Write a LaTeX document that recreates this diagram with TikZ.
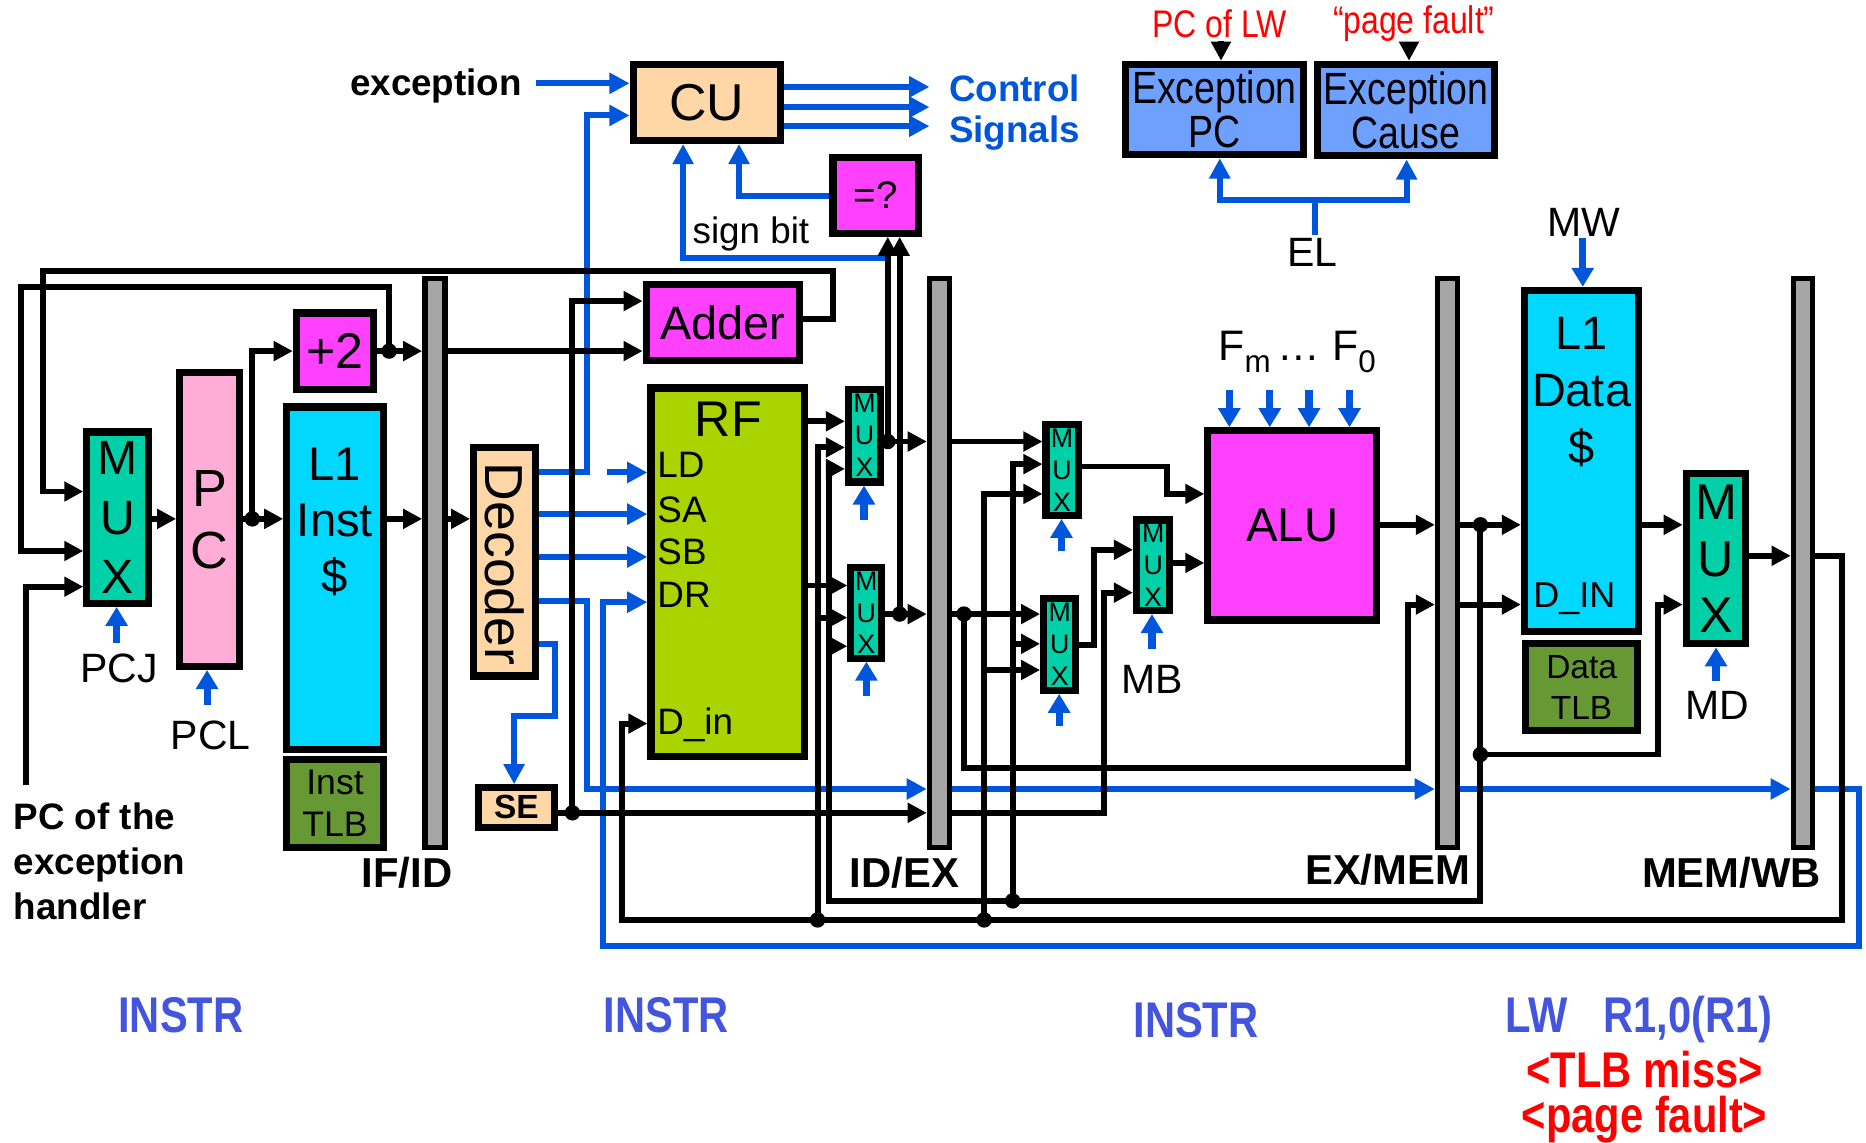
\documentclass[tikz,border=0pt]{standalone}
\usepackage{fontspec}
\setmainfont{Liberation Sans}
\newfontfamily\narrowfont[FakeStretch=0.83]{Liberation Sans}
\usetikzlibrary{arrows.meta}
\definecolor{cteal}{RGB}{0,208,168}
\definecolor{cpink}{RGB}{255,173,214}
\definecolor{ccyan}{RGB}{0,216,255}
\definecolor{cgreen}{RGB}{102,153,51}
\definecolor{cmag}{RGB}{255,64,255}
\definecolor{crf}{RGB}{170,212,0}
\definecolor{cpeach}{RGB}{255,214,165}
\definecolor{cblue}{RGB}{0,85,221}
\definecolor{cgray}{RGB}{166,166,166}
\definecolor{cexc}{RGB}{110,160,255}
\definecolor{cinstr}{RGB}{68,85,221}
\definecolor{cred}{RGB}{255,0,0}
\newcommand\setfs[2]{\fontsize{#1}{#2}\selectfont}
\newcommand\mkbox[7]{\node[#6, minimum width={(#4-#2)*0.1mm}, minimum height={(#5-#3)*0.1mm}] (#1) at ({(#2+#4)/2},{(#3+#5)/2}) {#7};}
\tikzset{
  wr/.style={line width=0.5mm, black},
  wra/.style={wr, -{Triangle[length=1.6mm,width=1.6mm]}},
  bwr/.style={line width=0.5mm, cblue},
  bwra/.style={bwr, -{Triangle[length=1.7mm,width=1.7mm]}},
  ctl/.style={line width=0.6mm, cblue, -{Triangle[length=1.6mm,width=1.8mm]}},
  blk/.style={draw=black, line width=0.6mm, inner sep=0pt},
  reg/.style={draw=black, line width=0.45mm, fill=cgray, inner sep=0pt},
  jdot/.style={circle, fill=black, inner sep=0pt, minimum size=1.3mm},
  lbl/.style={inner sep=0.5pt},
  smux/.style={blk, fill=cteal, align=center, font=\setfs{6.4}{7.6}},
}
\begin{document}
\begin{tikzpicture}[x=0.1mm,y=-0.1mm]
\useasboundingbox (0,0) rectangle (1568,960);

% ---------------- boxes ----------------
\mkbox{cu}{532}{54}{656}{118}{blk,fill=cpeach,font=\setfs{12.4}{14}}{CU}
\mkbox{eq}{700}{132}{772}{196}{blk,fill=cmag,font=\setfs{9.2}{11}}{=?}
\mkbox{muxpc}{73}{363}{125}{507}{blk,fill=cteal,align=center,font=\setfs{11.5}{14.2}}{M\\U\\X}
\mkbox{pc}{151}{313}{201}{560}{blk,fill=cpink,align=center,font=\setfs{12.5}{14.8}}{P\\C}
\mkbox{plustwo}{249}{263}{314}{327}{blk,fill=cmag,font=\setfs{12}{14}}{+2}
\mkbox{linst}{241}{342}{322}{630}{blk,fill=ccyan}{}
\mkbox{itlb}{241}{638}{322}{712}{blk,fill=cgreen,align=center,font=\setfs{8.5}{10}}{Inst\\TLB}
\mkbox{ifid}{357}{234}{374}{712}{reg}{}
\mkbox{dec}{398}{376}{450}{568}{blk,fill=cpeach}{}
\mkbox{se}{402}{662}{466}{695}{blk,fill=cpeach,font=\bfseries\setfs{8}{9}}{SE}
\mkbox{adder}{543}{239}{672}{303}{blk,fill=cmag,font=\setfs{11.2}{13}}{Adder}
\mkbox{rf}{547}{326}{676}{636}{blk,fill=crf}{}
\mkbox{muxa}{713}{327}{740}{405}{smux}{M\\U\\X}
\mkbox{muxb}{715}{477}{741}{553}{smux}{M\\U\\X}
\mkbox{idex}{781}{234}{798}{712}{reg}{}
\mkbox{muxc}{879}{357}{906}{433}{smux}{M\\U\\X}
\mkbox{muxd}{877}{503}{904}{580}{smux}{M\\U\\X}
\mkbox{muxe}{955}{437}{983}{513}{smux}{M\\U\\X}
\mkbox{alu}{1015}{362}{1157}{521}{blk,fill=cmag,font=\setfs{11.3}{13}}{ALU}
\mkbox{exmem}{1208}{234}{1225}{712}{reg}{}
\mkbox{ldata}{1281}{244}{1377}{531}{blk,fill=ccyan}{}
\mkbox{dtlb}{1282}{541}{1376}{614}{blk,fill=cgreen,align=center,font=\setfs{8}{9.7}}{Data\\TLB}
\mkbox{muxmem}{1417}{398}{1467}{541}{blk,fill=cteal,align=center,font=\setfs{12}{13.4}}{M\\U\\X}
\mkbox{memwb}{1507}{234}{1523}{712}{reg}{}
\mkbox{epc}{946}{54}{1095}{130}{blk,fill=cexc,align=center,font=\narrowfont\setfs{10.8}{10.5}}{Exception\\PC}
\mkbox{ecause}{1107}{54}{1256}{131}{blk,fill=cexc,align=center,font=\narrowfont\setfs{10.8}{10.5}}{Exception\\Cause}

% ---------------- texts ----------------
\node[lbl,rotate=-90,font=\setfs{12.8}{14}] (dectxt) at (424,474) {Decoder};
\node[lbl,anchor=north,align=center,font=\setfs{11.3}{13.4}] (linsttxt) at (281.5,374) {L1\\Inst\\\$};
\node[lbl,anchor=north,align=center,font=\setfs{11.2}{13.7}] (ldtxt) at (1329,264) {L1\\Data\\\$};
\node[lbl,anchor=west,font=\setfs{8.6}{10}] (dinup) at (1286,503) {D\_IN};
\node[lbl,font=\setfs{12}{14}] (rftxt) at (612,352) {RF};
\node[lbl,anchor=west,font=\setfs{8.8}{10}] (ldl) at (550,391) {LD};
\node[lbl,anchor=west,font=\setfs{8.8}{10}] (sal) at (550,428) {SA};
\node[lbl,anchor=west,font=\setfs{8.8}{10}] (sbl) at (550,464) {SB};
\node[lbl,anchor=west,font=\setfs{8.8}{10}] (drl) at (550,500) {DR};
\node[lbl,anchor=west,font=\setfs{8.8}{10}] (dinl) at (550,609) {D\_in};

\node[lbl,anchor=east,font=\bfseries\setfs{8.8}{10}] (exctxt) at (441,72) {exception};
\node[lbl,anchor=west,font=\bfseries\setfs{8.8}{10},text=cblue] (ctl1) at (795,74) {Control};
\node[lbl,anchor=west,font=\bfseries\setfs{8.8}{10},text=cblue] (ctl2) at (795,112) {Signals};
\node[lbl,font=\setfs{8.8}{10}] (signtxt) at (631,197) {sign bit};
\node[lbl,font=\setfs{9.8}{11}] (pcjtxt) at (100,562) {PCJ};
\node[lbl,font=\setfs{9.8}{11}] (pcltxt) at (177,618) {PCL};
\node[lbl,anchor=north west,align=left,font=\bfseries\setfs{8.8}{10.8}] (exhtxt) at (9,672) {PC of the\\exception\\handler};
\node[lbl,font=\bfseries\setfs{10}{12}] (ifidtxt) at (342,733) {IF/ID};
\node[lbl,font=\bfseries\setfs{10}{12}] (idextxt) at (760,733) {ID/EX};
\node[lbl,font=\bfseries\setfs{10}{12}] (exmemtxt) at (1166,731) {EX/MEM};
\node[lbl,font=\bfseries\setfs{10}{12}] (memwbtxt) at (1455,733) {MEM/WB};
\node[lbl,font=\setfs{9.8}{11}] (mbtxt) at (968,571) {MB};
\node[lbl,font=\setfs{9.8}{11}] (mdtxt) at (1443,593) {MD};
\node[lbl,font=\setfs{9.8}{11}] (mwtxt) at (1331,187) {MW};
\node[lbl,font=\setfs{9.8}{11}] (eltxt) at (1103,212) {EL};
\node[lbl,font=\setfs{10.2}{12}] (ftxt) at (1090,296) {F\raisebox{-0.55ex}{\setfs{7.5}{8}m}\,\ldots\ F\raisebox{-0.55ex}{\setfs{7.5}{8}0}};
\node[lbl,font=\narrowfont\setfs{9.2}{10},text=cred] (pclw) at (1025,20) {PC of LW};
\node[lbl,font=\narrowfont\setfs{9.2}{10},text=cred] (pgft) at (1188,20) {“page fault”};

\node[lbl,font=\narrowfont\bfseries\setfs{12}{12},text=cinstr] (ins1) at (152,853) {INSTR};
\node[lbl,font=\narrowfont\bfseries\setfs{12}{12},text=cinstr] (ins2) at (560,853) {INSTR};
\node[lbl,font=\narrowfont\bfseries\setfs{12}{12},text=cinstr] (ins3) at (1005,857) {INSTR};
\node[lbl,font=\narrowfont\bfseries\setfs{12}{12},text=cinstr] (lwtxt) at (1377,857) {LW\hspace{3mm}R1,0(R1)};
\node[lbl,font=\narrowfont\bfseries\setfs{12}{12},text=cred] (tlbm) at (1382,899) {<TLB miss>};
\node[lbl,font=\narrowfont\bfseries\setfs{12}{12},text=cred] (pgfl) at (1382,941) {<page fault>};

% ---------------- junctions & free ends ----------------
\node[jdot] (j1) at (212,436) {};
\node[jdot] (j2) at (327,295) {};
\node[jdot] (j3) at (481,683) {};
\node[jdot] (j4) at (746,371) {};
\node[jdot] (j5) at (756,516) {};
\node[jdot] (j6) at (810,516) {};
\node[jdot] (j7) at (1244,441) {};
\node[jdot] (j8) at (1244,634) {};
\node[jdot] (j9) at (851,757) {};
\node[jdot] (j10) at (687,773) {};
\node[jdot] (j11) at (827,773) {};
\coordinate (exhsrc) at (22,660);
\coordinate (ldsrc) at (510,397);
\coordinate (excsrc) at (450,70);
\coordinate (cs1) at (781,73);
\coordinate (cs2) at (781,90);
\coordinate (cs3) at (781,106);
\coordinate (signsrc) at (746,217);
\coordinate (b687) at (687,519);
\coordinate (b697) at (697,543);
\coordinate (b851) at (851,541);
\coordinate (b827) at (827,563);

% ---------------- blue wires ----------------
\draw[bwra] (excsrc) -- (cu.west |- excsrc);
\draw[bwra] (dec.east |- 0,397) -- (493,397) -- (493,97) -- (cu.west |- 0,97);
\draw[bwra] (cu.east |- cs1) -- (cs1);
\draw[bwra] (cu.east |- cs2) -- (cs2);
\draw[bwra] (cu.east |- cs3) -- (cs3);
\draw[bwra] (dec.east |- 0,432) -- (rf.west |- 0,432);
\draw[bwra] (dec.east |- 0,468) -- (rf.west |- 0,468);
\draw[bwra] (dec.east |- 0,505) -- (493,505) -- (493,663) -- (idex.west |- 0,663);
\draw[bwra] (dec.east |- 0,541) -- (466,541) -- (466,602) -- (432,602) -- (se.north -| 432,0);
\draw[bwra] (ldsrc) -- (rf.west |- ldsrc);
\draw[bwra] (idex.east |- 0,663) -- (exmem.west |- 0,663);
\draw[bwra] (exmem.east |- 0,663) -- (memwb.west |- 0,663);
\draw[bwra] (memwb.east |- 0,663) -- (1562,663) -- (1562,795) -- (507,795) -- (507,506) -- (rf.west |- 0,506);
\draw[bwra] (signsrc) -- (574,217) -- (cu.south -| 574,0);
\draw[bwra] (eq.west |- 0,165) -- (621,165) -- (cu.south -| 621,0);

% ---------------- black wires: IF ----------------
\draw[wra] (muxpc.east |- 0,436) -- (pc.west |- 0,436);
\draw[wra] (pc.east |- 0,436) -- (linst.west |- 0,436);
\draw[wra] (j1.center) |- (plustwo.west |- 0,295);
\draw[wra] (plustwo.east |- 0,295) -- (ifid.west |- 0,295);
\draw[wra] (j2.center) -- (327,241) -- (18,241) -- (18,463) -- (muxpc.west |- 0,463);
\draw[wra] (adder.east |- 0,268) -- (700,268) -- (700,228) -- (36,228) -- (36,413) -- (muxpc.west |- 0,413);
\draw[wra] (exhsrc) -- (22,493) -- (muxpc.west |- 0,493);
\draw[wra] (linst.east |- 0,436) -- (ifid.west |- 0,436);

% ---------------- ID ----------------
\draw[wra] (ifid.east |- 0,436) -- (dec.west |- 0,436);
\draw[wra] (ifid.east |- 0,295) -- (adder.west |- 0,295);
\draw[wra] (se.east |- 0,683) -- (idex.west |- 0,683);
\draw[wra] (j3.center) -- (481,253) -- (adder.west |- 0,253);
\draw[wra] (rf.east |- 0,354) -- (muxa.west |- 0,354);
\draw[wra] (rf.east |- 0,492) -- (muxb.west |- 0,492);
\draw[wra] (j10.center) -- (687,376) -- (muxa.west |- 0,376);
\draw[wra] (b687) -- (muxb.west |- b687);
\draw[wra] (j7.center) -- (1244,757) -- (697,757) -- (697,394) -- (muxa.west |- 0,394);
\draw[wra] (b697) -- (muxb.west |- b697);
\draw[wra] (muxa.east |- 0,371) -- (idex.west |- 0,371);
\draw[wra] (muxb.east |- 0,516) -- (idex.west |- 0,516);
\draw[wra] (j4.center) -- (eq.south -| 746,0);
\draw[wra] (j5.center) -- (eq.south -| 756,0);

% ---------------- EX ----------------
\draw[wra] (idex.east |- 0,371) -- (muxc.west |- 0,371);
\draw[wra] (idex.east |- 0,516) -- (muxd.west |- 0,516);
\draw[wra] (j6.center) -- (810,645) -- (1183,645) -- (1183,508) -- (exmem.west |- 0,508);
\draw[wra] (j9.center) -- (851,390) -- (muxc.west |- 0,390);
\draw[wra] (b851) -- (muxd.west |- b851);
\draw[wra] (j11.center) -- (827,415) -- (muxc.west |- 0,415);
\draw[wra] (b827) -- (muxd.west |- b827);
\draw[wra] (muxc.east |- 0,392) -- (981,392) -- (981,415) -- (alu.west |- 0,415);
\draw[wra] (muxd.east |- 0,542) -- (919,542) -- (919,462) -- (muxe.west |- 0,462);
\draw[wra] (idex.east |- 0,683) -- (928,683) -- (928,498) -- (muxe.west |- 0,498);
\draw[wra] (muxe.east |- 0,473) -- (alu.west |- 0,473);
\draw[wra] (alu.east |- 0,441) -- (exmem.west |- 0,441);

% ---------------- MEM / WB ----------------
\draw[wra] (exmem.east |- 0,441) -- (ldata.west |- 0,441);
\draw[wra] (exmem.east |- 0,508) -- (ldata.west |- 0,508);
\draw[wra] (j8.center) -- (1393,634) -- (1393,508) -- (muxmem.west |- 0,508);
\draw[wra] (ldata.east |- 0,441) -- (muxmem.west |- 0,441);
\draw[wra] (muxmem.east |- 0,467) -- (memwb.west |- 0,467);
\draw[wra] (memwb.east |- 0,467) -- (1548,467) -- (1548,773) -- (523,773) -- (523,608) -- (rf.west |- 0,608);

% ---------------- exception registers ----------------
\draw[wra] (pclw.south -| 1026,0) -- (epc.north -| 1026,0);
\draw[wra] (pgft.south -| 1184,0) -- (ecause.north -| 1184,0);
\draw[bwr] (eltxt.north -| 1105,0) -- (1105,168);
\draw[bwr, {Triangle[length=1.7mm,width=1.7mm]}-{Triangle[length=1.7mm,width=1.7mm]}] (epc.south -| 1025,0) -- (1025,168) -- (1182,168) -- (ecause.south -| 1182,0);

% ---------------- control arrows ----------------
\coordinate (cpcj) at (98,540);
\coordinate (cpcl) at (174,592);
\coordinate (cma) at (726,437);
\coordinate (cmb) at (728,585);
\coordinate (cmc) at (892,463);
\coordinate (cmd) at (890,610);
\coordinate (cme) at (968,545);
\coordinate (cmd2) at (1442,572);
\coordinate (cmw) at (1330,200);
\draw[ctl] (cpcj) -- (muxpc.south -| cpcj);
\draw[ctl] (cpcl) -- (pc.south -| cpcl);
\draw[ctl] (cma) -- (muxa.south -| cma);
\draw[ctl] (cmb) -- (muxb.south -| cmb);
\draw[ctl] (cmc) -- (muxc.south -| cmc);
\draw[ctl] (cmd) -- (muxd.south -| cmd);
\draw[ctl] (cme) -- (muxe.south -| cme);
\draw[ctl] (cmd2) -- (muxmem.south -| cmd2);
\draw[ctl] (cmw) -- (ldata.north -| cmw);
\foreach \fx in {1033,1067,1100,1134} {
  \draw[ctl] (\fx,328) -- (alu.north -| \fx,0);
}
\end{tikzpicture}
\end{document}
